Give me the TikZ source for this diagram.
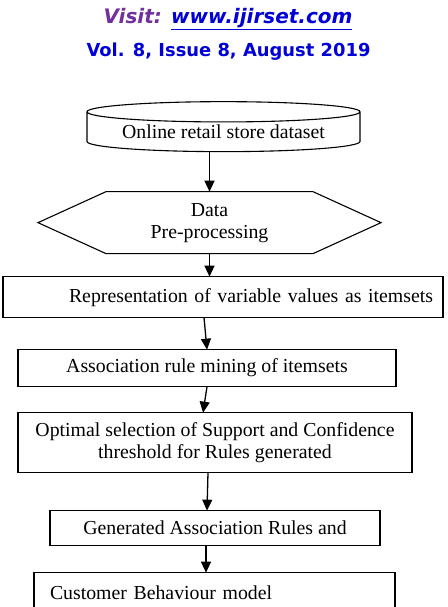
\documentclass[tikz,border=0pt]{standalone}
\usepackage{fontspec}
\setmainfont{Liberation Serif}
\newfontfamily\headfont{DejaVu Sans}
\usetikzlibrary{shapes.geometric, shapes.symbols, arrows.meta, positioning}
\definecolor{visitpurple}{RGB}{112,48,160}
\definecolor{headblue}{RGB}{0,0,215}

\begin{document}
\begin{tikzpicture}[
    x=1pt, y=-1pt,
    box/.style={rectangle, draw=black, line width=1.1pt, inner sep=0pt, outer sep=0pt,
                align=center, font=\fontsize{19.8}{22}\selectfont},
    dbbox/.style={box, cylinder, shape border rotate=90, aspect=0.1},
    prepbox/.style={box, signal, signal to=west and east, signal pointer angle=49},
    head/.style={font=\headfont\bfseries\fontsize{17.9}{21}\selectfont, text=headblue},
    arr/.style={-{Triangle[length=11pt,width=10pt]}, line width=1.3pt}
]
\useasboundingbox (0,0) rectangle (447,607);

\node[head, font=\headfont\bfseries\itshape\fontsize{20}{24}\selectfont] (visit) at (228,19)
    {\textcolor{visitpurple}{Visit:} \underline{www.ijirset.com}};
\node[head] (issue) at (228.5,52) {Vol. 8, Issue 8, August 2019};

\node[dbbox, minimum width=273pt, minimum height=50pt] (data) at (223.5,132) {Online retail store dataset};
\node[prepbox, minimum width=343pt, minimum height=62pt, below=40pt of data, xshift=-14pt] (prep) {Data\\Pre-processing};
\node[box, minimum width=440pt, minimum height=41pt, text width=420pt, align=right,
      below=23pt of prep, xshift=13.5pt] (repr) {Representation of variable values as itemsets};
\node[box, minimum width=378pt, minimum height=37pt, below=32pt of repr, xshift=-16pt] (mining) {Association rule mining of itemsets};
\node[box, minimum width=394pt, minimum height=60pt, below=26pt of mining, xshift=8pt] (thresh)
    {Optimal selection of Support and Confidence\\threshold for Rules generated};
\node[box, minimum width=330pt, minimum height=35pt, below=38pt of thresh] (rules) {Generated Association Rules and};
\node[box, minimum width=361pt, minimum height=40pt, text width=329pt, align=left,
      below=27pt of rules, xshift=-0.5pt] (model) {Customer Behaviour model};

\draw[arr] (data.south -| prep.north) -- (prep.north);
\draw[arr] (prep.south) -- (prep.south |- repr.north);
\draw[arr] ([xshift=-19pt]repr.south) -- (mining.north);
\draw[arr] (mining.south) -- ([xshift=-12pt]thresh.north);
\draw[arr] ([xshift=-7pt]thresh.south) -- ([xshift=-8pt]rules.north);
\draw[arr] ([xshift=-9pt]rules.south) -- ([xshift=-8.5pt]model.north);
\end{tikzpicture}
\end{document}
